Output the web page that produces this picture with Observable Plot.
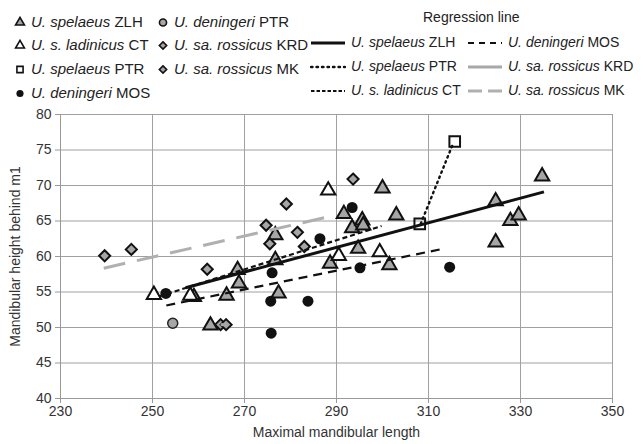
<!DOCTYPE html>
<html><head><meta charset="utf-8">
<script src="https://cdn.jsdelivr.net/npm/d3@7"></script>
<script src="https://cdn.jsdelivr.net/npm/@observablehq/plot@0.6"></script>
<style>
body{margin:0;background:#fff;font-family:"Liberation Sans",Arial,sans-serif;color:#222}
#wrap{position:relative;width:643px;height:444px;overflow:hidden}
#legend{position:relative;width:643px;height:100px}
.it{position:absolute;white-space:nowrap;transform:translateY(-50%);line-height:1.1}
.l{font-size:15px}
.r{font-size:14px}
.mk{position:absolute;transform:translate(-50%,-50%)}
#chart svg{display:block}
</style></head><body>
<div id="wrap"><div id="legend"></div><div id="chart"></div></div>
<script>
// ---- data ----
const xTicks = [230, 250, 270, 290, 310, 330, 350];
const yTicks = [40, 45, 50, 55, 60, 65, 70, 75, 80];

const spelaeusZLH = [[259.0,54.3],[262.6,50.3],[266.1,54.5],[268.5,58.1],[268.8,56.2],[276.7,63.0],[276.7,59.5],[277.4,54.8],[288.6,59.0],[291.6,66.0],[293.4,64.0],[295.6,65.1],[295.8,64.4],[294.7,61.1],[300.0,69.6],[301.5,58.8],[303.0,65.8],[324.6,67.8],[324.6,62.0],[327.8,65.0],[329.6,65.8],[334.7,71.3]];
const ladinicusCT = [[250.3,54.6],[258.2,54.5],[288.2,69.3],[290.5,60.1],[299.4,60.6]];
const spelaeusPTR = [[308.1,64.6],[315.7,76.2]];
const deningeriMOS = [[252.9,54.8],[276.0,57.7],[275.7,53.7],[275.8,49.2],[283.8,53.7],[286.4,62.5],[293.4,66.9],[295.1,58.4],[314.6,58.5]];
const deningeriPTR = [[254.4,50.6]];
const rossicusKRD = [[264.8,50.4],[266.0,50.4]];
const rossicusMK = [[239.6,60.1],[245.4,61.0],[261.9,58.2],[274.7,64.4],[275.5,61.8],[279.1,67.4],[281.5,63.4],[283.0,61.4],[293.6,70.9]];

// regression line end points [x1, y1, x2, y2]
const regZLH = [257.2,55.6,335.1,69.1];
const regCT  = [251.5,54.4,299.8,64.3];
const regPTR = [308.3,64.6,315.4,76.0];
const regMOS = [253.0,53.1,313.3,61.1];
const regKRD = [264.8,50.4,266.0,50.4];
const regMK  = [239.4,58.35,288.3,65.6];

const seriesNames = ["U. spelaeus","U. s. ladinicus","U. spelaeus","U. deningeri","U. deningeri","U. sa. rossicus","U. sa. rossicus"];
const seriesSites = ["ZLH","CT","PTR","MOS","PTR","KRD","MK"];

// ---- styles ----
const GRAY = "#a6a6a6";
const markerStyles = [
  {pts: spelaeusZLH, symbol:"triangle", r:5.3, fill:GRAY, stroke:"#111", sw:2},
  {pts: ladinicusCT, symbol:"triangle", r:5.3, fill:"#fff", stroke:"#111", sw:2},
  {pts: spelaeusPTR, symbol:"square", r:6, fill:"none", stroke:"#111", sw:2},
  {pts: deningeriMOS, symbol:"circle", r:5.5, fill:"#111", stroke:"none", sw:0},
  {pts: deningeriPTR, symbol:"circle", r:5, fill:GRAY, stroke:"#222", sw:1.5},
  {pts: rossicusKRD, symbol:"diamond2", r:5, fill:GRAY, stroke:"#111", sw:2},
  {pts: rossicusMK, symbol:"diamond2", r:5, fill:GRAY, stroke:"#111", sw:2}
];
const lineStyles = [
  {reg: regZLH, stroke:"#111", sw:3, dash:null, cap:"butt", name:0},
  {reg: regMOS, stroke:"#111", sw:2.2, dash:"9,6", cap:"butt", name:3},
  {reg: regPTR, stroke:"#111", sw:2.4, dash:"1.5,4", cap:"round", name:2},
  {reg: regKRD, stroke:"#a8a8a8", sw:3, dash:null, cap:"butt", name:5},
  {reg: regCT, stroke:"#111", sw:2.2, dash:"5,3", cap:"butt", name:1},
  {reg: regMK, stroke:"#b0b0b0", sw:3, dash:"22,12", cap:"butt", name:6}
];

// ---- chart ----
const marks = [
  Plot.gridX(xTicks, {stroke:"#a0a0a0", strokeOpacity:1}),
  Plot.gridY(yTicks, {stroke:"#a0a0a0", strokeOpacity:1}),
  Plot.ruleY([40], {stroke:"#999"}),
  Plot.ruleX([230], {stroke:"#999"}),
  Plot.axisX(xTicks, {tickSize:5, tickPadding:3, stroke:"#999", fill:"#333", label:null}),
  Plot.axisY(yTicks, {tickSize:5, tickPadding:4, stroke:"#999", fill:"#333", label:null}),
  Plot.text(["Maximal mandibular length"], {frameAnchor:"bottom", lineAnchor:"middle", textAnchor:"middle", dy:34, fill:"#333", fontSize:14}),
  Plot.text(["Mandibular height behind m1"], {frameAnchor:"left", textAnchor:"middle", lineAnchor:"middle", dx:-45, rotate:-90, fill:"#333", fontSize:14})
];
for (const s of markerStyles) {
  marks.push(Plot.dot(s.pts, {x: d => d[0], y: d => d[1], symbol: s.symbol, r: s.r, fill: s.fill, stroke: s.stroke, strokeWidth: s.sw}));
}
for (const l of lineStyles) {
  marks.push(Plot.link([l.reg], {x1: d => d[0], y1: d => d[1], x2: d => d[2], y2: d => d[3], stroke: l.stroke, strokeWidth: l.sw, strokeDasharray: l.dash, strokeLinecap: l.cap}));
}
const chart = Plot.plot({
  width: 643, height: 344,
  marginLeft: 60, marginRight: 31, marginTop: 14, marginBottom: 46,
  style: {fontSize:"14px", fontFamily:'"Liberation Sans", Arial, sans-serif', background:"#fff"},
  x: {domain:[230,350]},
  y: {domain:[40,80]},
  marks
});
document.getElementById("chart").appendChild(chart);

// ---- legend ----
const legend = document.getElementById("legend");
function symPath(sym, size){
  const map = {triangle:d3.symbolTriangle, square:d3.symbolSquare, circle:d3.symbolCircle, diamond2:d3.symbolDiamond2};
  return d3.symbol(map[sym], size)();
}
function addText(cls, x, y, i){
  const d = document.createElement("div");
  d.className = "it " + cls;
  d.style.left = x + "px"; d.style.top = y + "px";
  d.innerHTML = `<i>${seriesNames[i]}</i> ${seriesSites[i]}`;
  legend.appendChild(d);
}
const leftPos = [[20,22],[20,45],[20,69],[20,93],[163,22],[163,45],[163,69]];
markerStyles.forEach((s, i) => {
  const [mx, my] = leftPos[i];
  const svg = d3.create("svg").attr("width",12).attr("height",12).attr("class","mk")
    .style("left", mx+"px").style("top", my+"px");
  svg.append("path").attr("transform","translate(6,6.5)")
    .attr("d", symPath(s.symbol, s.symbol==="circle" ? 40 : (s.symbol==="square"?38:34)))
    .attr("fill", s.fill).attr("stroke", s.stroke === "none" ? "none" : "#111").attr("stroke-width", s.sw ? 1.6 : 0);
  legend.appendChild(svg.node());
  addText("l", mx + 11, my, i);
});
const title = document.createElement("div");
title.className = "it r";
title.style.left = "423px"; title.style.top = "18px";
title.textContent = "Regression line";
legend.appendChild(title);
const rightPos = [[310,43],[467,43],[310,67],[467,67],[310,91],[467,91]];
lineStyles.forEach((l, i) => {
  const [lx, ly] = rightPos[i];
  const svg = d3.create("svg").attr("width",36).attr("height",8)
    .style("position","absolute").style("left", lx+"px").style("top", (ly-4)+"px");
  svg.append("line").attr("x1",1).attr("x2",35).attr("y1",4).attr("y2",4)
    .attr("stroke", l.stroke).attr("stroke-width", Math.min(l.sw, 3))
    .attr("stroke-dasharray", l.dash ? (l.dash === "22,12" ? "14,6" : l.dash === "9,6" ? "6,5" : l.dash === "5,3" ? "3.5,2" : "1.5,4") : null)
    .attr("stroke-linecap", l.cap);
  legend.appendChild(svg.node());
  addText("r", lx + 41, ly, l.name);
});
</script>
</body></html>
